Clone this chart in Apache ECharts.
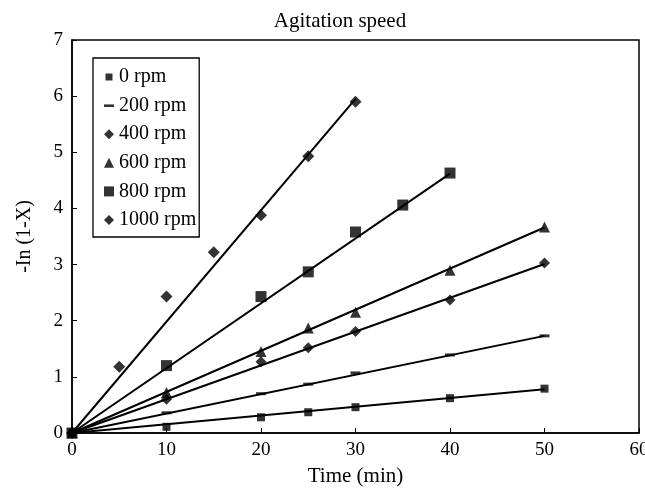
<!DOCTYPE html>
<html>
<head>
<meta charset="utf-8">
<script src="https://cdn.jsdelivr.net/npm/echarts@6/dist/echarts.min.js"></script>
<style>
  html, body { margin: 0; padding: 0; background: #fff; }
  #main { width: 645px; height: 488px; }
</style>
</head>
<body>
<div id="main"></div>
<script>
// measured points, -ln(1-X) vs time (min)
const rpm0 = [[0, 0], [10, 0.11], [20, 0.28], [25, 0.37], [30, 0.46], [40, 0.62], [50, 0.79]];
const rpm200 = [[0, 0], [10, 0.36], [20, 0.70], [25, 0.87], [30, 1.07], [40, 1.39], [50, 1.73]];
const rpm400 = [[0, 0], [10, 0.60], [20, 1.27], [25, 1.52], [30, 1.81], [40, 2.37], [50, 3.03]];
const rpm600 = [[0, 0], [10, 0.72], [20, 1.45], [25, 1.87], [30, 2.15], [40, 2.90], [50, 3.67]];
const rpm800 = [[0, 0], [10, 1.20], [20, 2.43], [25, 2.87], [30, 3.58], [35, 4.06], [40, 4.63]];
const rpm1000 = [[0, 0], [5, 1.18], [10, 2.43], [15, 3.22], [20, 3.88], [25, 4.93], [30, 5.90]];

// linear trend lines (start, end)
const fit0 = [[0, 0], [50, 0.78]];
const fit200 = [[0, 0], [50, 1.73]];
const fit400 = [[0, 0], [50, 3.01]];
const fit600 = [[0, 0], [50, 3.66]];
const fit800 = [[0, 0], [40, 4.62]];
const fit1000 = [[0, 0], [30, 5.95]];

const names = ['0 rpm', '200 rpm', '400 rpm', '600 rpm', '800 rpm', '1000 rpm'];
const xTicks = [0, 10, 20, 30, 40, 50, 60];
const yTicks = [0, 1, 2, 3, 4, 5, 6, 7];

const font = '"Liberation Serif", "Times New Roman", serif';

var myChart = echarts.init(document.getElementById('main'));

const points = [rpm0, rpm200, rpm400, rpm600, rpm800, rpm1000];
const fits = [fit0, fit200, fit400, fit600, fit800, fit1000];
const symbols = ['rect', 'rect', 'diamond', 'triangle', 'rect', 'diamond'];
const sizes = [8, [10, 3], 11, 11, 11, 12];
// legend icons keep their own proportions inside a 10x10 box
const icons = [
  'path://M0,0M10,10M1.5,1.5h7v7h-7z',
  'path://M0,0M10,10M0,3.8h10v2.6h-10z',
  'path://M0,0M10,10M5,0L10,5L5,10L0,5z',
  'path://M0,0M10,10M5,0L10,10L0,10z',
  'path://M0,0M10,10M0,0h10v10h-10z',
  'path://M0,0M10,10M5,0L10,5L5,10L0,5z'
];

let series = [];
for (let i = 0; i < names.length; i++) {
  series.push({
    name: names[i] + ' fit',
    type: 'line',
    data: fits[i],
    symbol: 'none',
    silent: true,
    lineStyle: { color: '#000', width: 2 },
    z: 2
  });
  series.push({
    name: names[i],
    type: 'scatter',
    data: points[i],
    symbol: symbols[i],
    symbolSize: sizes[i],
    itemStyle: { color: '#000' },
    z: 3
  });
}

var option = {
  animation: false,
  backgroundColor: '#fff',
  title: {
    text: 'Agitation speed',
    left: 335,
    top: 6,
    textAlign: 'center',
    textStyle: { fontFamily: font, fontSize: 21, fontWeight: 'normal', color: '#000' }
  },
  legend: {
    orient: 'vertical',
    left: 93,
    top: 58,
    data: names.map((n, i) => ({ name: n, icon: icons[i] })),
    itemWidth: 10,
    itemHeight: 10,
    itemGap: 8.6,
    padding: [9, 3, 7, 11],
    borderColor: '#000',
    borderWidth: 1.3,
    borderRadius: 0,
    textStyle: { fontFamily: font, fontSize: 20, color: '#000' },
    selectedMode: false
  },
  grid: {
    left: 72,
    right: 6,
    top: 40,
    bottom: 55,
    outerBoundsMode: 'none',
    show: true,
    borderColor: '#000',
    borderWidth: 1.5
  },
  xAxis: {
    type: 'value',
    min: xTicks[0],
    max: xTicks[xTicks.length - 1],
    interval: 10,
    name: 'Time (min)',
    nameLocation: 'middle',
    nameGap: 33,
    nameTextStyle: { fontFamily: font, fontSize: 21, color: '#000' },
    axisLine: { show: true, lineStyle: { color: '#000', width: 1.5 } },
    axisTick: { show: true, inside: true, length: 5, lineStyle: { color: '#000' } },
    axisLabel: { fontFamily: font, fontSize: 19, color: '#000', margin: 8 },
    splitLine: { show: false }
  },
  yAxis: {
    type: 'value',
    min: yTicks[0],
    max: yTicks[yTicks.length - 1],
    interval: 1,
    name: '-In (1-X)',
    nameLocation: 'middle',
    nameGap: 37,
    nameTextStyle: { fontFamily: font, fontSize: 20, color: '#000' },
    axisLine: { show: true, lineStyle: { color: '#000', width: 1.5 } },
    axisTick: { show: true, inside: true, length: 5, lineStyle: { color: '#000' } },
    axisLabel: { fontFamily: font, fontSize: 19, color: '#000', margin: 9 },
    splitLine: { show: false }
  },
  series: series
};

myChart.setOption(option);
</script>
</body>
</html>
